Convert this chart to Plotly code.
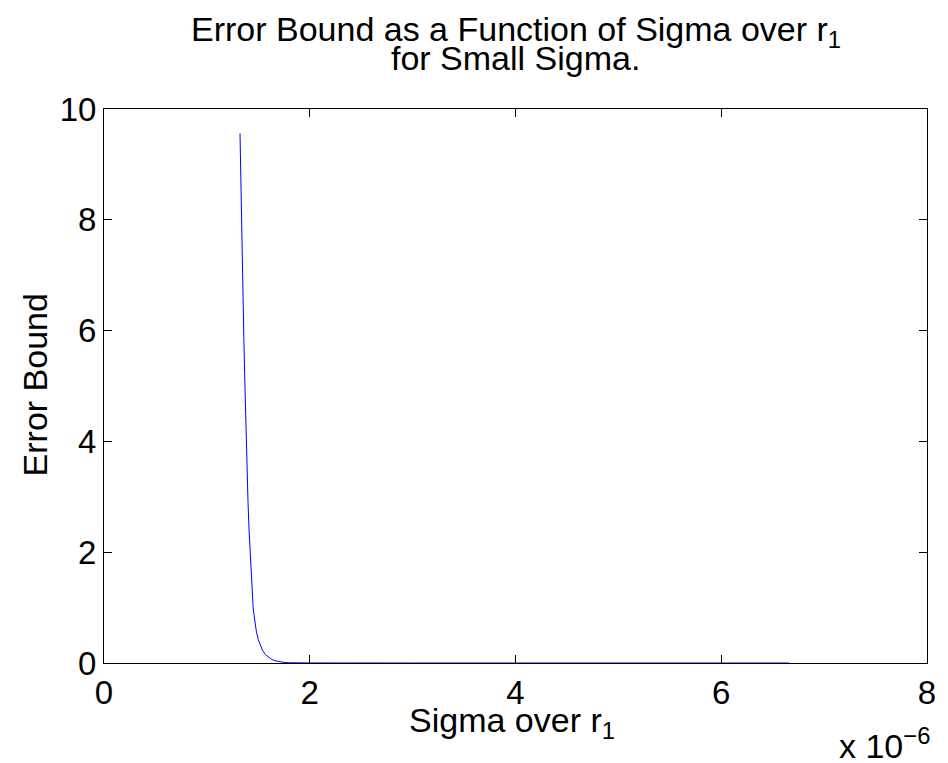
import plotly.graph_objects as go

# Data (x in units of 1e-6)
sigma_over_r1 = [1.322, 1.33, 1.34, 1.35, 1.36, 1.37, 1.38, 1.39, 1.40, 1.41, 1.42, 1.43,
                 1.44, 1.45, 1.46, 1.47, 1.48, 1.50, 1.52, 1.54, 1.57, 1.60, 1.63, 1.66,
                 1.70, 1.75, 1.80, 1.90, 2.00, 3.00, 4.00, 5.00, 6.00, 6.66]
error_bound = [9.56, 8.6, 7.6, 6.6, 5.8, 5.0, 4.2, 3.5, 2.9, 2.4, 2.0, 1.6,
               1.3, 1.0, 0.85, 0.7, 0.58, 0.42, 0.31, 0.23, 0.15, 0.10, 0.065, 0.042,
               0.022, 0.010, 0.005, 0.002, 0.001, 0.0, 0.0, 0.0, 0.0, 0.0]
x_ticks = [0, 2, 4, 6, 8]
y_ticks = [0, 2, 4, 6, 8, 10]

FONT = "Liberation Sans, Arial, Helvetica, sans-serif"
TXT = 34
TICK = 33

fig = go.Figure()
fig.add_trace(go.Scatter(
    x=[v * 1e-6 for v in sigma_over_r1], y=error_bound,
    mode="lines", line=dict(color="#0000ff", width=1),
    showlegend=False, hoverinfo="skip"))

fig.update_layout(
    width=940, height=755,
    paper_bgcolor="white", plot_bgcolor="white",
    margin=dict(l=96, r=16, t=101, b=100),
    font=dict(family=FONT, color="black"),
)
fig.update_xaxes(
    range=[0, 8e-6], tickvals=[v * 1e-6 for v in x_ticks], ticktext=[str(v) for v in x_ticks],
    ticks="inside", ticklen=8, tickcolor="black", tickwidth=1,
    showline=True, linecolor="black", linewidth=1, mirror="ticks",
    showgrid=False, zeroline=False,
    tickfont=dict(size=TICK, family=FONT, color="black"),
)
fig.update_yaxes(
    range=[0, 10], tickvals=y_ticks, ticktext=[str(v) for v in y_ticks],
    ticks="inside", ticklen=8, tickcolor="black", tickwidth=1,
    showline=True, linecolor="black", linewidth=1, mirror="ticks",
    showgrid=False, zeroline=False,
    tickfont=dict(size=TICK, family=FONT, color="black"),
)

def ann(text, x, y, xanchor="center", yanchor="middle", angle=0):
    fig.add_annotation(text=text, xref="paper", yref="paper", x=x, y=y,
                       xanchor=xanchor, yanchor=yanchor, textangle=angle,
                       showarrow=False, font=dict(size=TXT, family=FONT, color="black"))

ann("Error Bound as a Function of Sigma over r<sub>1</sub>", 0.5, 1.140)
ann("for Small Sigma.", 0.5, 1.0912)
ann("Sigma over r<sub>1</sub>", 0.496, -0.1083)
ann("Error Bound", -0.0833, 0.5018, angle=-90)
ann("x 10<sup>\u22126</sup>", 1.006, -0.102, xanchor="right", yanchor="top")

fig.write_html("out.html")
